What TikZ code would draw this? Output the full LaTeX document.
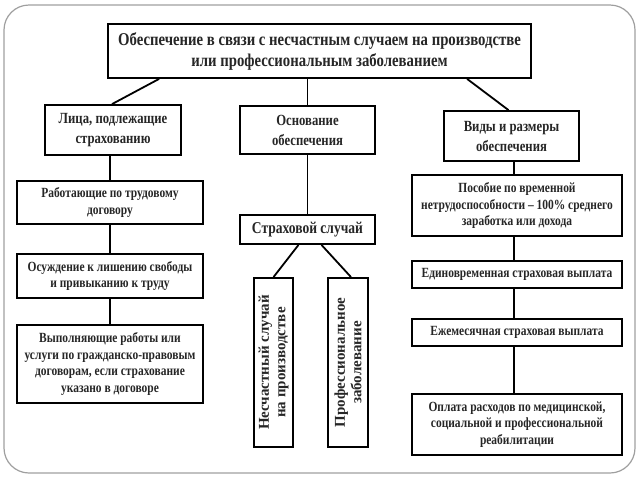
\documentclass[tikz,border=0pt]{standalone}
\usepackage{fontspec}
\setmainfont{Liberation Serif}[FakeStretch=0.82]
\newfontfamily\vertfont{Liberation Serif}
\usetikzlibrary{calc}
\begin{document}
\begin{tikzpicture}[x=1pt,y=-1pt,
  box/.style={draw=black,line width=1.8pt,fill=white,inner sep=0pt,align=center,font=\bfseries,text=black!85},
  conn/.style={draw=black,line width=1.8pt},
  big/.style={font=\fontsize{18}{21}\selectfont\bfseries},
  mid/.style={font=\fontsize{15.5}{20}\selectfont\bfseries},
  sml/.style={font=\fontsize{14}{16.5}\selectfont\bfseries},
  vert/.style={font=\vertfont\fontsize{15}{16.5}\selectfont\bfseries,rotate=90}]
\useasboundingbox (0,0) rectangle (640,480);
\draw[gray!75,line width=1.2pt,rounded corners=25pt] (4,5) rectangle (635,473);
% boxes
\node[box,big,minimum width=423pt,minimum height=54pt] (top) at (319.5,51)
  {Обеспечение в связи с несчастным случаем на производстве\\или профессиональным заболеванием};
\node[box,mid,minimum width=136pt,minimum height=50pt] (lica) at (113,130) {Лица, подлежащие\\страхованию};
\node[box,mid,minimum width=135pt,minimum height=48pt] (osn) at (307.5,130) {Основание\\обеспечения};
\node[box,mid,minimum width=135pt,minimum height=50pt] (vidy) at (511.5,136) {Виды и размеры\\обеспечения};
\node[box,sml,minimum width=186pt,minimum height=43pt] (rab) at (110,202.5) {Работающие по трудовому\\договору};
\node[box,sml,minimum width=186pt,minimum height=44pt] (osuzh) at (110,276) {Осуждение к лишению свободы\\и привыканию к труду};
\node[box,sml,minimum width=186pt,minimum height=78pt] (vyp) at (110,364) {Выполняющие работы или\\услуги по гражданско-правовым\\договорам, если страхование\\указано в договоре};
\node[box,font=\fontsize{16.5}{18}\selectfont\bfseries,minimum width=135pt,minimum height=29pt] (strah) at (307.5,229.5) {Страховой случай};
\node[box,minimum width=39pt,minimum height=169pt] (nes) at (273.5,362.5) {};
\node[vert,align=center,text=black!85] (nest) at (nes.center) {Несчастный случай\\на производстве};
\node[box,minimum width=40pt,minimum height=169pt] (prof) at (348,362.5) {};
\node[vert,align=center,text=black!85] (proft) at (prof.center) {Профессиональное\\заболевание};
\node[box,sml,minimum width=210pt,minimum height=61pt] (posob) at (517,205.5) {Пособие по временной\\нетрудоспособности – 100\% среднего\\заработка или дохода};
\node[box,sml,minimum width=210pt,minimum height=27pt] (edin) at (517,274.5) {Единовременная страховая выплата};
\node[box,sml,minimum width=210pt,minimum height=27pt] (ezhem) at (517,332.5) {Ежемесячная страховая выплата};
\node[box,sml,minimum width=210pt,minimum height=61pt] (oplata) at (517,424.5) {Оплата расходов по медицинской,\\социальной и профессиональной\\реабилитации};
% connectors
\coordinate (tl) at ($(top.south west)+(52,0)$);
\coordinate (tr) at ($(top.south west)+(360,0)$);
\draw[conn] (tl) -- ($(lica.north)+(-1,0)$);
\draw[conn] (top.south -| osn.north) -- (osn.north);
\draw[conn] (tr) -- ($(vidy.north)+(-3,0)$);
\draw[conn] (rab.north |- lica.south) -- (rab.north);
\draw[conn] (rab.south) -- (osuzh.north);
\draw[conn] (osuzh.south) -- (vyp.north);
\draw[conn] (osn.south) -- (strah.north);
\coordinate (sl) at ($(strah.south)+(-9,0)$);
\coordinate (sr) at ($(strah.south)+(14,0)$);
\draw[conn] (sl) -- (nes.north);
\draw[conn] (sr) -- ($(prof.north)+(3,0)$);
\coordinate (vb) at ($(vidy.south)+(2.5,0)$);
\draw[conn] (vb) -- (vb |- posob.north);
\draw[conn] (posob.south -| vb) -- (edin.north -| vb);
\draw[conn] (edin.south -| vb) -- (ezhem.north -| vb);
\draw[conn] (ezhem.south -| vb) -- (oplata.north -| vb);
\end{tikzpicture}
\end{document}
